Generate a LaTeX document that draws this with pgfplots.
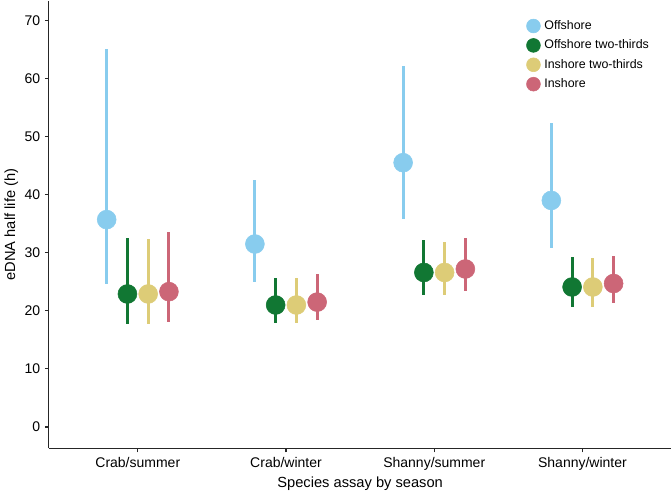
\documentclass[border=0pt]{standalone}
\usepackage{pgfplots}
\pgfplotsset{compat=1.18}
\usepackage{pgfplotstable}
\usepackage{fontspec}
\setmainfont{Liberation Sans}
\definecolor{cOff}{HTML}{88CCEE}
\definecolor{cOff2}{HTML}{117733}
\definecolor{cIn2}{HTML}{DDCC77}
\definecolor{cIn}{HTML}{CC6677}
\pgfplotstableread{
x y ep em
-0.21 35.7 29.4 11.1
0.79 31.5 11.1 6.5
1.79 45.5 16.7 9.7
2.79 39.0 13.4 8.2
}\offshore
\pgfplotstableread{
x y ep em
-0.07 22.9 9.6 5.2
0.93 21.0 4.7 3.1
1.93 26.6 5.6 3.9
2.93 24.1 5.1 3.5
}\offtwo
\pgfplotstableread{
x y ep em
0.07 22.9 9.4 5.2
1.07 21.0 4.7 3.1
2.07 26.6 5.2 3.9
3.07 24.1 5.0 3.5
}\intwo
\pgfplotstableread{
x y ep em
0.21 23.3 10.2 5.3
1.21 21.5 4.8 3.1
2.21 27.2 5.3 3.8
3.21 24.7 4.8 3.4
}\inshore
\begin{document}
\begin{tikzpicture}[font=\fontsize{10.5}{12.6}\selectfont]
\begin{axis}[
  scale only axis,
  width=467pt, height=336pt,
  xmin=-0.6, xmax=3.6,
  ymin=-3.7, ymax=73.4,
  axis lines=left,
  axis line style={-, line width=0.9pt, black!85},
  xtick={0,1,2,3},
  xticklabels={Crab/summer,Crab/winter,Shanny/summer,Shanny/winter},
  ytick={0,10,...,70},
  tick align=outside,
  major tick length=3pt,
  tick style={line width=0.8pt, black!85},
  /pgf/number format/assume math mode=true,
  xlabel={Species assay by season},
  ylabel={eDNA half life (h)},
  label style={font=\fontsize{11}{13}\selectfont},
  xlabel style={yshift=2pt},
  ylabel style={yshift=-2pt},
  legend style={draw=none, fill=none, at={(0.76,0.968)}, anchor=north west,
    font=\fontsize{9.3}{11}\selectfont, row sep=2.3pt, legend cell align=left},
  legend image code/.code={\fill[#1] (0pt,0pt) circle (5.2pt); \path (6pt,0pt);},
  error bars/y dir=both,
  error bars/y explicit,
  error bars/error mark=none,
]
\addplot[only marks, mark=*, mark size=7.1pt, color=cOff, mark options={draw=none, fill=cOff},
  error bars/error bar style={line width=2.25pt, color=cOff}]
  table[x=x, y=y, y error plus=ep, y error minus=em]{\offshore};
\addlegendentry{Offshore}
\addplot[only marks, mark=*, mark size=7.1pt, color=cOff2, mark options={draw=none, fill=cOff2},
  error bars/error bar style={line width=2.25pt, color=cOff2}]
  table[x=x, y=y, y error plus=ep, y error minus=em]{\offtwo};
\addlegendentry{Offshore two-thirds}
\addplot[only marks, mark=*, mark size=7.1pt, color=cIn2, mark options={draw=none, fill=cIn2},
  error bars/error bar style={line width=2.25pt, color=cIn2}]
  table[x=x, y=y, y error plus=ep, y error minus=em]{\intwo};
\addlegendentry{Inshore two-thirds}
\addplot[only marks, mark=*, mark size=7.1pt, color=cIn, mark options={draw=none, fill=cIn},
  error bars/error bar style={line width=2.25pt, color=cIn}]
  table[x=x, y=y, y error plus=ep, y error minus=em]{\inshore};
\addlegendentry{Inshore}
\end{axis}
\end{tikzpicture}
\end{document}
